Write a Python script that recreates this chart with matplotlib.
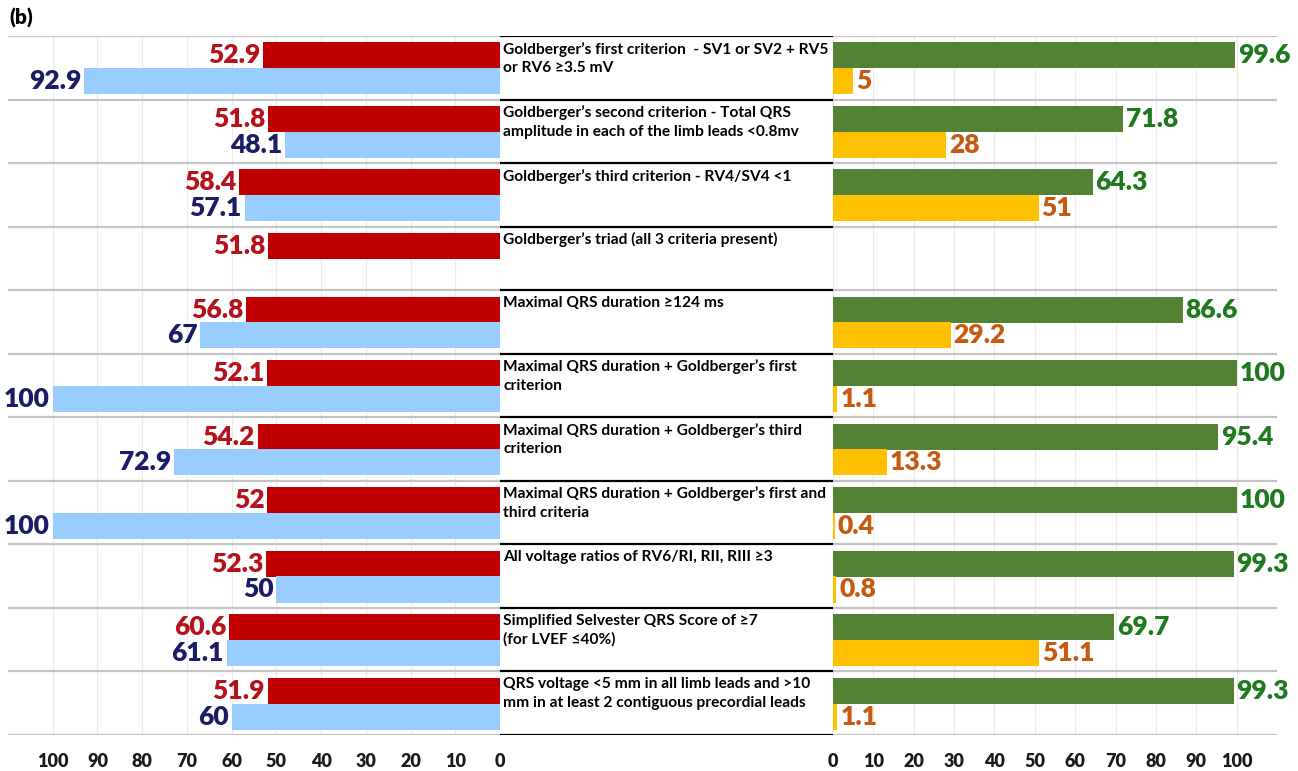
import numpy as np
import matplotlib
matplotlib.use('Agg')
import matplotlib.pyplot as plt

plt.rcParams['font.family'] = ['Lato', 'DejaVu Sans']

# criteria shown in the middle column
criteria = [
    'Goldberger\u2019s first criterion  - SV1 or SV2 + RV5\nor RV6 \u22653.5 mV',
    'Goldberger\u2019s second criterion - Total QRS\namplitude in each of the limb leads <0.8mv',
    'Goldberger\u2019s third criterion - RV4/SV4 <1',
    'Goldberger\u2019s triad (all 3 criteria present)',
    'Maximal QRS duration \u2265124 ms',
    'Maximal QRS duration + Goldberger\u2019s first\ncriterion',
    'Maximal QRS duration + Goldberger\u2019s third\ncriterion',
    'Maximal QRS duration + Goldberger\u2019s first and\nthird criteria',
    'All voltage ratios of RV6/RI, RII, RIII \u22653',
    'Simplified Selvester QRS Score of \u22657\n(for LVEF \u226440%)',
    'QRS voltage <5 mm in all limb leads and >10\nmm in at least 2 contiguous precordial leads',
]

left_red = [52.9, 51.8, 58.4, 51.8, 56.8, 52.1, 54.2, 52, 52.3, 60.6, 51.9]
left_blue = [92.9, 48.1, 57.1, np.nan, 67, 100, 72.9, 100, 50, 61.1, 60]
right_green = [99.6, 71.8, 64.3, np.nan, 86.6, 100, 95.4, 100, 99.3, 69.7, 99.3]
right_yellow = [5, 28, 51, np.nan, 29.2, 1.1, 13.3, 0.4, 0.8, 51.1, 1.1]

ticks = [0, 10, 20, 30, 40, 50, 60, 70, 80, 90, 100]

W, H = 1298, 771
fig = plt.figure(figsize=(W / 100, H / 100), dpi=100)

top_px, bot_px = 36, 735
ab = 1 - bot_px / H
ah = (bot_px - top_px) / H

ax_l = fig.add_axes([8 / W, ab, (500 - 8) / W, ah])
ax_m = fig.add_axes([500 / W, ab, (833 - 500) / W, ah])
ax_r = fig.add_axes([833 / W, ab, (1277 - 833) / W, ah])

n = len(criteria)
rows = np.arange(n)
fmt = lambda v: ('%g' % v)


def setup(ax, xlim):
    ax.set_xlim(*xlim)
    ax.set_ylim(n, 0)
    for s in ax.spines.values():
        s.set_visible(False)
    ax.set_yticks([])
    ax.set_xticks(ticks)
    ax.tick_params(axis='x', length=0, pad=13, labelsize=13, labelcolor='#1a1a1a')
    for t in ax.get_xticklabels():
        t.set_fontweight('heavy')
    ax.grid(axis='x', color='#ebebeb', lw=0.8, zorder=0)
    ax.set_axisbelow(True)
    for y in range(n + 1):
        ax.axhline(y, color='#c4c4c4', lw=1.6, zorder=1)


setup(ax_l, (110, 0))
setup(ax_r, (0, 110))

h = 0.41
ax_l.barh(rows + 0.305, left_red, height=h, color='#c00000', zorder=2)
ax_l.barh(rows + 0.71, left_blue, height=h, color='#99ccff', zorder=2)
ax_r.barh(rows + 0.305, right_green, height=h, color='#548235', zorder=2)
ax_r.barh(rows + 0.71, right_yellow, height=h, color='#ffc000', zorder=2)

lab_kw = dict(fontsize=19, fontweight='heavy', va='center', textcoords='offset points')
for i in range(n):
    if not np.isnan(left_red[i]):
        ax_l.annotate(fmt(left_red[i]), (left_red[i], i + 0.305), xytext=(-2, 0),
                      ha='right', color='#b5121b', **lab_kw)
    if not np.isnan(left_blue[i]):
        ax_l.annotate(fmt(left_blue[i]), (left_blue[i], i + 0.71), xytext=(-2, 0),
                      ha='right', color='#1c1c66', **lab_kw)
    if not np.isnan(right_green[i]):
        ax_r.annotate(fmt(right_green[i]), (right_green[i], i + 0.305), xytext=(2, 0),
                      ha='left', color='#1f7a1f', **lab_kw)
    if not np.isnan(right_yellow[i]):
        ax_r.annotate(fmt(right_yellow[i]), (right_yellow[i], i + 0.71), xytext=(2, 0),
                      ha='left', color='#c55a11', **lab_kw)

# middle column with the criteria
ax_m.set_xlim(0, 1)
ax_m.set_ylim(n, 0)
ax_m.axis('off')
for y in range(n + 1):
    ax_m.axhline(y, color='black', lw=1.6)
for i, txt in enumerate(criteria):
    ax_m.text(0.01, i + 0.09, txt, fontsize=11.2, fontweight='bold', va='top',
              ha='left', color='black', linespacing=1.4)

fig.text(9 / W, 1 - 18 / H, '(b)', fontsize=15, fontweight='heavy', va='center', ha='left')

fig.savefig('out.png', dpi=100)
